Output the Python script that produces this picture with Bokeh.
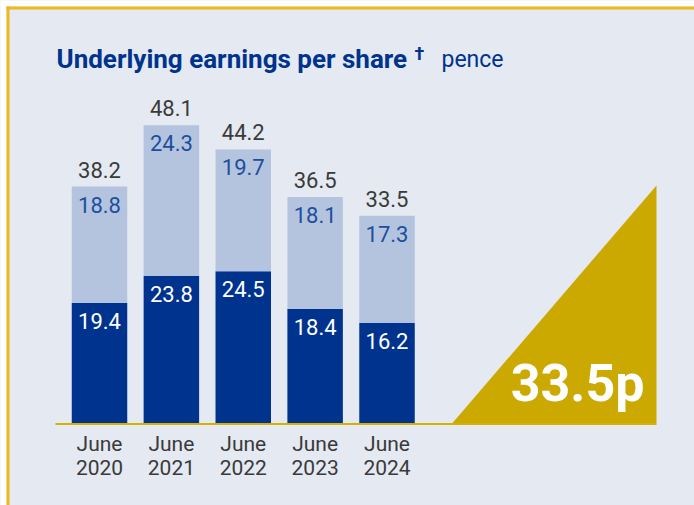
from bokeh.plotting import figure
from bokeh.models import ColumnDataSource, Range1d, Label, BoxAnnotation, PolyAnnotation
from bokeh.core.properties import value
from bokeh.embed import file_html
from bokeh.resources import INLINE

# ---- data ----
periods = ["June 2020", "June 2021", "June 2022", "June 2023", "June 2024"]
lower_values = [19.4, 23.8, 24.5, 18.4, 16.2]   # dark segment
upper_values = [18.8, 24.3, 19.7, 18.1, 17.3]   # light segment
totals = [round(a + b, 1) for a, b in zip(lower_values, upper_values)]

# ---- style ----
BG = "#E4E9F2"
DARK = "#00338D"
LIGHT = "#B4C4DE"
LIGHT_TXT = "#1D4F9F"
GREY_TXT = "#3A3A3A"
GOLD = "#CCA900"
BASE = "#D6B000"
BORDER = "#EEB81F"
FONT = "Roboto"

W, H = 694, 505

src = ColumnDataSource(dict(
    x=list(range(len(periods))),
    lower=lower_values,
    upper_top=totals,
    total=totals,
    total_txt=[f"{t:.1f}" for t in totals],
    lower_txt=[f"{v:.1f}" for v in lower_values],
    upper_txt=[f"{v:.1f}" for v in upper_values],
    month_txt=[s.split(" ")[0] for s in periods],
    year_txt=[s.split(" ")[1] for s in periods],
    zero=[0] * len(periods),
))

p = figure(
    width=W, height=H,
    x_range=Range1d(-1.3774, 8.278),
    y_range=Range1d(-13.328, 68.255),
    output_backend="svg", toolbar_location=None,
    x_axis_location=None, y_axis_location=None,
    tools="",
)
p.min_border_left = 0
p.min_border_top = 0
p.min_border_bottom = 0
p.min_border_right = 0
p.background_fill_color = BG
p.border_fill_color = BG
p.outline_line_color = None
p.xgrid.visible = False
p.ygrid.visible = False

BW = 0.772
p.vbar(x="x", bottom="zero", top="lower", width=BW, source=src, fill_color=DARK, line_color=None)
p.vbar(x="x", bottom="lower", top="upper_top", width=BW, source=src, fill_color=LIGHT, line_color=None)

# value labels
p.text(x="x", y="total", text="total_txt", source=src, text_align="center", text_baseline="alphabetic",
       y_offset=-17, text_font=value(FONT), text_font_size="22px", text_color=GREY_TXT)
p.text(x="x", y="upper_top", text="upper_txt", source=src, text_align="center", text_baseline="alphabetic",
       y_offset=18, text_font=value(FONT), text_font_size="22px", text_color=LIGHT_TXT)
p.text(x="x", y="lower", text="lower_txt", source=src, text_align="center", text_baseline="alphabetic",
       y_offset=18, text_font=value(FONT), text_font_size="22px", text_color="white")

# category labels (two lines)
p.text(x="x", y="zero", text="month_txt", source=src, text_align="center", text_baseline="alphabetic",
       y_offset=21, text_font=value(FONT), text_font_size="21px", text_color=GREY_TXT)
p.text(x="x", y="zero", text="year_txt", source=src, text_align="center", text_baseline="alphabetic",
       y_offset=45, text_font=value(FONT), text_font_size="21px", text_color=GREY_TXT)

def sbox(l, r, b, t, color):
    return BoxAnnotation(left=l, right=r, bottom=b, top=t,
                         left_units="screen", right_units="screen",
                         bottom_units="screen", top_units="screen",
                         fill_color=color, fill_alpha=1, line_color=None)

# baseline
p.add_layout(sbox(55, 656, 80.5, 82.5, BASE))

# triangle
p.add_layout(PolyAnnotation(xs=[452, 656, 656], ys=[82.5, 320, 82.5], xs_units="screen", ys_units="screen",
                            fill_color=GOLD, fill_alpha=1, line_color=None))

p.add_layout(Label(x=644, y=122, x_units="screen", y_units="screen", text=f"{totals[-1]:.1f}p",
                   text_align="right", text_baseline="alphabetic", text_font=FONT,
                   text_font_size="52px", text_font_style="bold", text_color="white"))

# page margin (white) and border lines
p.add_layout(sbox(0, W, H - 6, H, "white"))
p.add_layout(sbox(0, 6, 0, H, "white"))
p.add_layout(sbox(6, W, H - 9, H - 6, BORDER))
p.add_layout(sbox(6, 9, 0, H - 6, BORDER))

# title
p.add_layout(Label(x=56, y=446.5, x_units="screen", y_units="screen", text="Underlying earnings per share",
                   text_align="left", text_baseline="alphabetic", text_font=FONT,
                   text_font_size="26px", text_font_style="bold", text_color=DARK))
p.add_layout(Label(x=414, y=452, x_units="screen", y_units="screen", text="\u2020",
                   text_align="left", text_baseline="alphabetic", text_font=FONT,
                   text_font_size="18px", text_font_style="bold", text_color=DARK))
p.add_layout(Label(x=441, y=446, x_units="screen", y_units="screen", text="pence",
                   text_align="left", text_baseline="alphabetic", text_font=FONT,
                   text_font_size="23px", text_color=DARK))

open("out.html", "w").write(file_html(p, INLINE))
